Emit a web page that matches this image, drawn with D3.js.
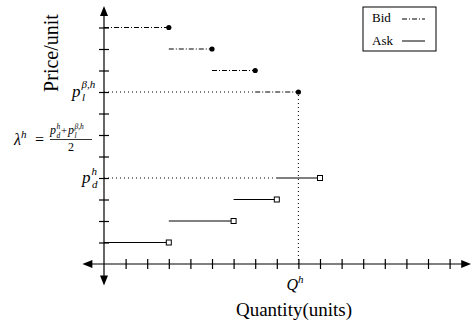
<!DOCTYPE html>
<html>
<head>
<meta charset="utf-8">
<script src="https://cdn.jsdelivr.net/npm/d3@7"></script>
<style>
  body { margin: 0; background: #fff; }
  text { font-family: "Liberation Serif", serif; fill: #000; }
  .math { font-style: italic; }
</style>
</head>
<body>
<div id="chart"></div>
<script>
// Step data: quantity where each block starts/ends, and its price level
const bidStart = [0, 3, 5, 7];
const bidEnd = [3, 5, 7, 9];
const bidPrice = [11, 10, 9, 8];

const askStart = [0, 3, 6, 8];
const askEnd = [3, 6, 8, 10];
const askPrice = [1, 2, 3, 4];

const xTickValues = [1, 2, 3, 4, 5, 6, 7, 8, 9, 10, 11, 12, 13, 14, 15, 16];
const yTickValues = [1, 2, 3, 4, 5, 6, 7, 8, 9, 10, 11];

const clearQty = 9;     // Q^h
const pdLevel = 4;      // p_d^h
const plLevel = 8;      // p_l^{beta,h}
const lambdaLevel = 6;  // (p_d + p_l) / 2

const width = 471, height = 322;

const x = d3.scaleLinear().domain([0, 16]).range([104, 449.6]);
const y = d3.scaleLinear().domain([0, 11]).range([264, 27.5]);

const svg = d3.select("#chart")
    .append("svg")
    .attr("width", width)
    .attr("height", height);

// axis lines with arrows at both ends
const ax = svg.append("g").attr("stroke", "#000").attr("stroke-width", 1.2);
ax.append("line")
    .attr("x1", x(-1) + 8).attr("x2", x(17) - 8)
    .attr("y1", y(0)).attr("y2", y(0));
ax.append("line")
    .attr("x1", x(0)).attr("x2", x(0))
    .attr("y1", y(12) + 8).attr("y2", y(-1) - 8);

function arrow(px, py, dx, dy) {
    // triangle with tip at (px,py) pointing in direction (dx,dy)
    const len = 10, half = 4;
    const bx = px - dx * len, by = py - dy * len;
    const pts = [[px, py], [bx - dy * half, by + dx * half], [bx + dy * half, by - dx * half]];
    svg.append("path")
        .attr("d", "M" + pts.map(p => p.join(",")).join("L") + "Z")
        .attr("fill", "#000");
}
arrow(x(-1), y(0), -1, 0);
arrow(x(17), y(0), 1, 0);
arrow(x(0), y(12), 0, -1);
arrow(x(0), y(-1), 0, 1);

// centred ticks
const xAxis = d3.axisBottom(x).tickValues(xTickValues).tickSize(10).tickFormat("");
const xg = svg.append("g")
    .attr("transform", "translate(0," + (y(0) - 5) + ")")
    .call(xAxis);
xg.select(".domain").remove();
xg.selectAll(".tick line").attr("stroke", "#000").attr("stroke-width", 1.2);

const yAxis = d3.axisLeft(y).tickValues(yTickValues).tickSize(10).tickFormat("");
const yg = svg.append("g")
    .attr("transform", "translate(" + (x(0) + 5) + ",0)")
    .call(yAxis);
yg.select(".domain").remove();
yg.selectAll(".tick line").attr("stroke", "#000").attr("stroke-width", 1.2);

// dotted guide lines
const dotted = svg.append("g")
    .attr("stroke", "#000")
    .attr("stroke-width", 1)
    .attr("stroke-dasharray", "1,3");
dotted.append("line")
    .attr("x1", x(0)).attr("x2", x(bidStart[3]))
    .attr("y1", y(plLevel)).attr("y2", y(plLevel));
dotted.append("line")
    .attr("x1", x(clearQty)).attr("x2", x(clearQty))
    .attr("y1", y(plLevel) + 3).attr("y2", y(0));
dotted.append("line")
    .attr("x1", x(0)).attr("x2", x(askStart[3]))
    .attr("y1", y(pdLevel)).attr("y2", y(pdLevel));

// bid steps (dash-dot with filled dot)
const bids = bidPrice.map((p, i) => ({ x0: bidStart[i], x1: bidEnd[i], p: p }));
const asks = askPrice.map((p, i) => ({ x0: askStart[i], x1: askEnd[i], p: p }));

svg.append("g").selectAll("line")
    .data(bids).enter().append("line")
    .attr("x1", d => x(d.x0)).attr("x2", d => x(d.x1))
    .attr("y1", d => y(d.p)).attr("y2", d => y(d.p))
    .attr("stroke", "#000")
    .attr("stroke-width", 1)
    .attr("stroke-dasharray", "5,2,1,2");
svg.append("g").selectAll("circle")
    .data(bids).enter().append("circle")
    .attr("cx", d => x(d.x1)).attr("cy", d => y(d.p))
    .attr("r", 2.6)
    .attr("fill", "#000");

// ask steps (solid with open square)
svg.append("g").selectAll("line")
    .data(asks).enter().append("line")
    .attr("x1", d => x(d.x0)).attr("x2", d => x(d.x1))
    .attr("y1", d => y(d.p)).attr("y2", d => y(d.p))
    .attr("stroke", "#000")
    .attr("stroke-width", 1);
svg.append("g").selectAll("rect")
    .data(asks).enter().append("rect")
    .attr("x", d => x(d.x1) - 2.5).attr("y", d => y(d.p) - 2.5)
    .attr("width", 5).attr("height", 5)
    .attr("fill", "#fff")
    .attr("stroke", "#000")
    .attr("stroke-width", 1);

// axis titles
svg.append("text")
    .attr("transform", "translate(58," + 53 + ") rotate(-90)")
    .style("text-anchor", "middle")
    .style("font-size", "20px")
    .text("Price/unit");

svg.append("text")
    .attr("x", 294).attr("y", 316)
    .style("text-anchor", "middle")
    .style("font-size", "19px")
    .text("Quantity(units)");

// Q^h under the axis
const q = svg.append("text")
    .attr("class", "math")
    .attr("x", x(clearQty) - 12).attr("y", 290)
    .style("font-size", "16px");
q.append("tspan").text("Q");
q.append("tspan").attr("dy", -7).style("font-size", "11px").text("h");

// p_l^{beta,h}
const pl = svg.append("text")
    .attr("class", "math")
    .attr("x", 72).attr("y", y(plLevel) + 5)
    .style("font-size", "17px");
pl.append("tspan").text("p");
pl.append("tspan").attr("dy", -9).attr("dx", 1).style("font-size", "11px").text("β,h");
pl.append("tspan").attr("x", 82).attr("dy", 13).style("font-size", "11px").text("l");

// p_d^h
const pd = svg.append("text")
    .attr("class", "math")
    .attr("x", 82).attr("y", y(pdLevel) + 5)
    .style("font-size", "17px");
pd.append("tspan").text("p");
pd.append("tspan").attr("dy", -8).attr("dx", 1).style("font-size", "11px").text("h");
pd.append("tspan").attr("x", 92).attr("dy", 13).style("font-size", "11px").text("d");

// lambda^h = (p_d^h + p_l^{beta,h}) / 2
const ly = y(lambdaLevel) + 5;
const lam = svg.append("text")
    .attr("x", 14).attr("y", ly + 5)
    .style("font-size", "16px");
lam.append("tspan").attr("class", "math").text("λ");
lam.append("tspan").attr("class", "math").attr("dy", -7).style("font-size", "11px").text("h");
svg.append("text")
    .attr("x", 35).attr("y", ly + 5)
    .style("font-size", "16px")
    .text("=");

// numerator pieces placed one by one so scripts do not collide
const numParts = [
    { t: "p", dx: 0, dy: 0, s: 12, it: true },
    { t: "h", dx: 6.5, dy: -5, s: 7.5, it: true },
    { t: "d", dx: 6.5, dy: 4, s: 7.5, it: true },
    { t: "+", dx: 11, dy: 0, s: 11, it: false },
    { t: "p", dx: 18, dy: 0, s: 12, it: true },
    { t: "β,h", dx: 24.5, dy: -5.5, s: 7.5, it: true },
    { t: "l", dx: 24.5, dy: 4, s: 7.5, it: true }
];
svg.append("g").selectAll("text")
    .data(numParts).enter().append("text")
    .attr("x", d => 50 + d.dx)
    .attr("y", d => ly - 6 + d.dy)
    .style("font-size", d => d.s + "px")
    .style("font-style", d => d.it ? "italic" : "normal")
    .text(d => d.t);

svg.append("line")
    .attr("x1", 50).attr("x2", 92)
    .attr("y1", ly - 0.5).attr("y2", ly - 0.5)
    .attr("stroke", "#000").attr("stroke-width", 0.8);
svg.append("text")
    .attr("x", 71).attr("y", ly + 10.5)
    .style("text-anchor", "middle")
    .style("font-size", "12px")
    .text("2");

// legend
const lg = svg.append("g").attr("transform", "translate(363,7)");
lg.append("rect")
    .attr("width", 73).attr("height", 44)
    .attr("fill", "#fff")
    .attr("stroke", "#000")
    .attr("stroke-width", 1);
lg.append("text").attr("x", 9).attr("y", 15).style("font-size", "13px").text("Bid");
lg.append("text").attr("x", 9).attr("y", 38).style("font-size", "13px").text("Ask");
lg.append("line")
    .attr("x1", 39).attr("x2", 62).attr("y1", 12).attr("y2", 12)
    .attr("stroke", "#000").attr("stroke-dasharray", "5,2,1,2");
lg.append("line")
    .attr("x1", 39).attr("x2", 62).attr("y1", 34).attr("y2", 34)
    .attr("stroke", "#000");
</script>
</body>
</html>
